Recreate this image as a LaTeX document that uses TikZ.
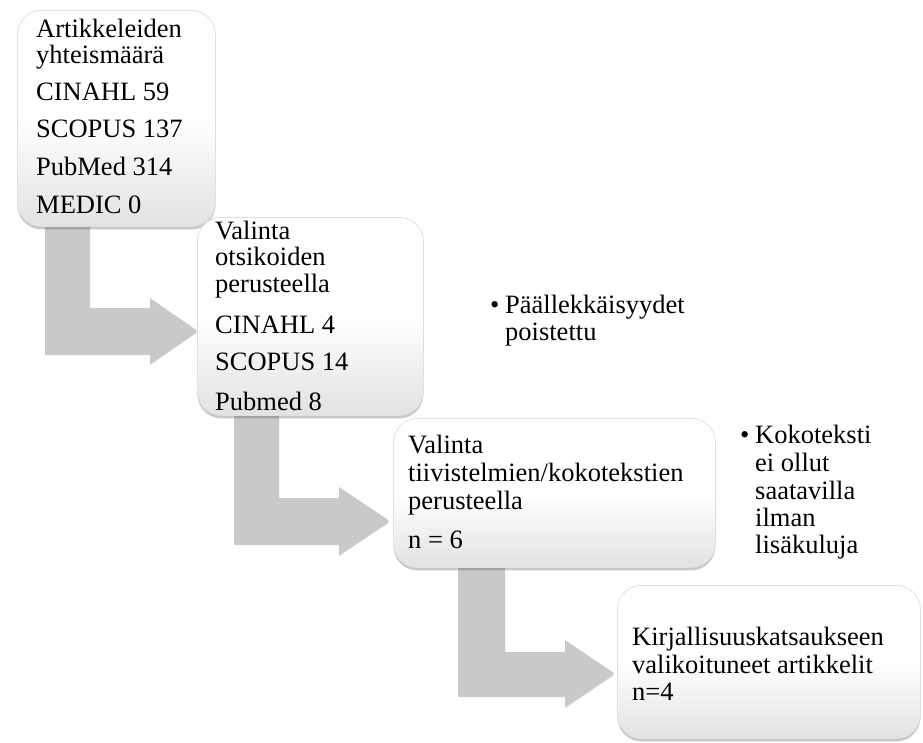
\documentclass[tikz,border=0pt]{standalone}
\usepackage{fontspec}
\setmainfont{Liberation Serif}
\usetikzlibrary{shadows}
\pgfdeclarelayer{bg}
\pgfsetlayers{bg,main}
\definecolor{arrowgray}{HTML}{C9C9C9}
\definecolor{boxbottom}{HTML}{E2E2E2}
\tikzset{
  stepbox/.style={rounded corners=24pt, top color=white, bottom color=boxbottom, middle color=white,
    draw=black!12, line width=0.8pt, inner sep=0pt, anchor=north west,
    drop shadow={shadow xshift=0pt, shadow yshift=-3pt, opacity=0.3, fill=black!70}},
  bentarrow/.style={fill=arrowgray, draw=none,
    drop shadow={shadow xshift=0pt, shadow yshift=-2pt, opacity=0.2, fill=black}},
  txt/.style={anchor=base west, inner sep=0pt, font=\fontsize{26.5}{28}\selectfont},
}
\begin{document}
\begin{tikzpicture}[x=1pt,y=-1pt]
\useasboundingbox (0,0) rectangle (923,742);
% boxes
\node[stepbox, minimum width=198pt, minimum height=216pt] (b1) at (17,10) {};
\node[stepbox, minimum width=226pt, minimum height=198pt] (b2) at (197,217) {};
\node[stepbox, minimum width=322pt, minimum height=149pt] (b3) at (393,418) {};
\node[stepbox, minimum width=303pt, minimum height=153pt] (b4) at (617,585) {};
% bent arrows (behind boxes)
\begin{pgfonlayer}{bg}
\fill[bentarrow] (45,215) -- (90,215) -- (90,308) -- (150,308) -- (150,298) -- (197,330.5) -- (150,363) -- (150,353) -- (45,353) -- cycle;
\fill[bentarrow] (234,405) -- (279,405) -- (279,498) -- (339,498) -- (339,487) -- (389,520.5) -- (339,554) -- (339,543) -- (234,543) -- cycle;
\fill[bentarrow] (458,557) -- (505,557) -- (505,652) -- (565,652) -- (565,640) -- (614,673) -- (565,706) -- (565,695) -- (458,695) -- cycle;
\end{pgfonlayer}
% box 1 text
\node[txt] (t1a) at (36,37) {Artikkeleiden};
\node[txt] (t1b) at (36,63) {yhteismäärä};
\node[txt] (t1c) at (36,100) {CINAHL 59};
\node[txt] (t1d) at (36,137) {SCOPUS 137};
\node[txt] (t1e) at (36,175) {PubMed 314};
\node[txt] (t1f) at (36,213) {MEDIC 0};
% box 2 text
\node[txt] (t2a) at (215,239) {Valinta};
\node[txt] (t2b) at (215,265) {otsikoiden};
\node[txt] (t2c) at (215,292) {perusteella};
\node[txt] (t2d) at (215,333) {CINAHL 4};
\node[txt] (t2e) at (215,370) {SCOPUS 14};
\node[txt] (t2f) at (215,410) {Pubmed 8};
% box 3 text
\node[txt] (t3a) at (408,453) {Valinta};
\node[txt] (t3b) at (408,481) {tiivistelmien/kokotekstien};
\node[txt] (t3c) at (408,509) {perusteella};
\node[txt] (t3d) at (408,548) {n = 6};
% box 4 text
\node[txt] (t4a) at (632,645) {Kirjallisuuskatsaukseen};
\node[txt] (t4b) at (632,673) {valikoituneet artikkelit};
\node[txt] (t4c) at (632,700) {n=4};
% side notes
\node[txt] (s1b) at (490,313) {•};
\node[txt] (s1a) at (505,313) {Päällekkäisyydet};
\node[txt] (s1c) at (505,340) {poistettu};
\node[txt] (s2b) at (740,443) {•};
\node[txt] (s2a) at (755,443) {Kokoteksti};
\node[txt] (s2c) at (755,471) {ei ollut};
\node[txt] (s2d) at (755,499) {saatavilla};
\node[txt] (s2e) at (755,526) {ilman};
\node[txt] (s2f) at (755,553) {lisäkuluja};
\end{tikzpicture}
\end{document}
